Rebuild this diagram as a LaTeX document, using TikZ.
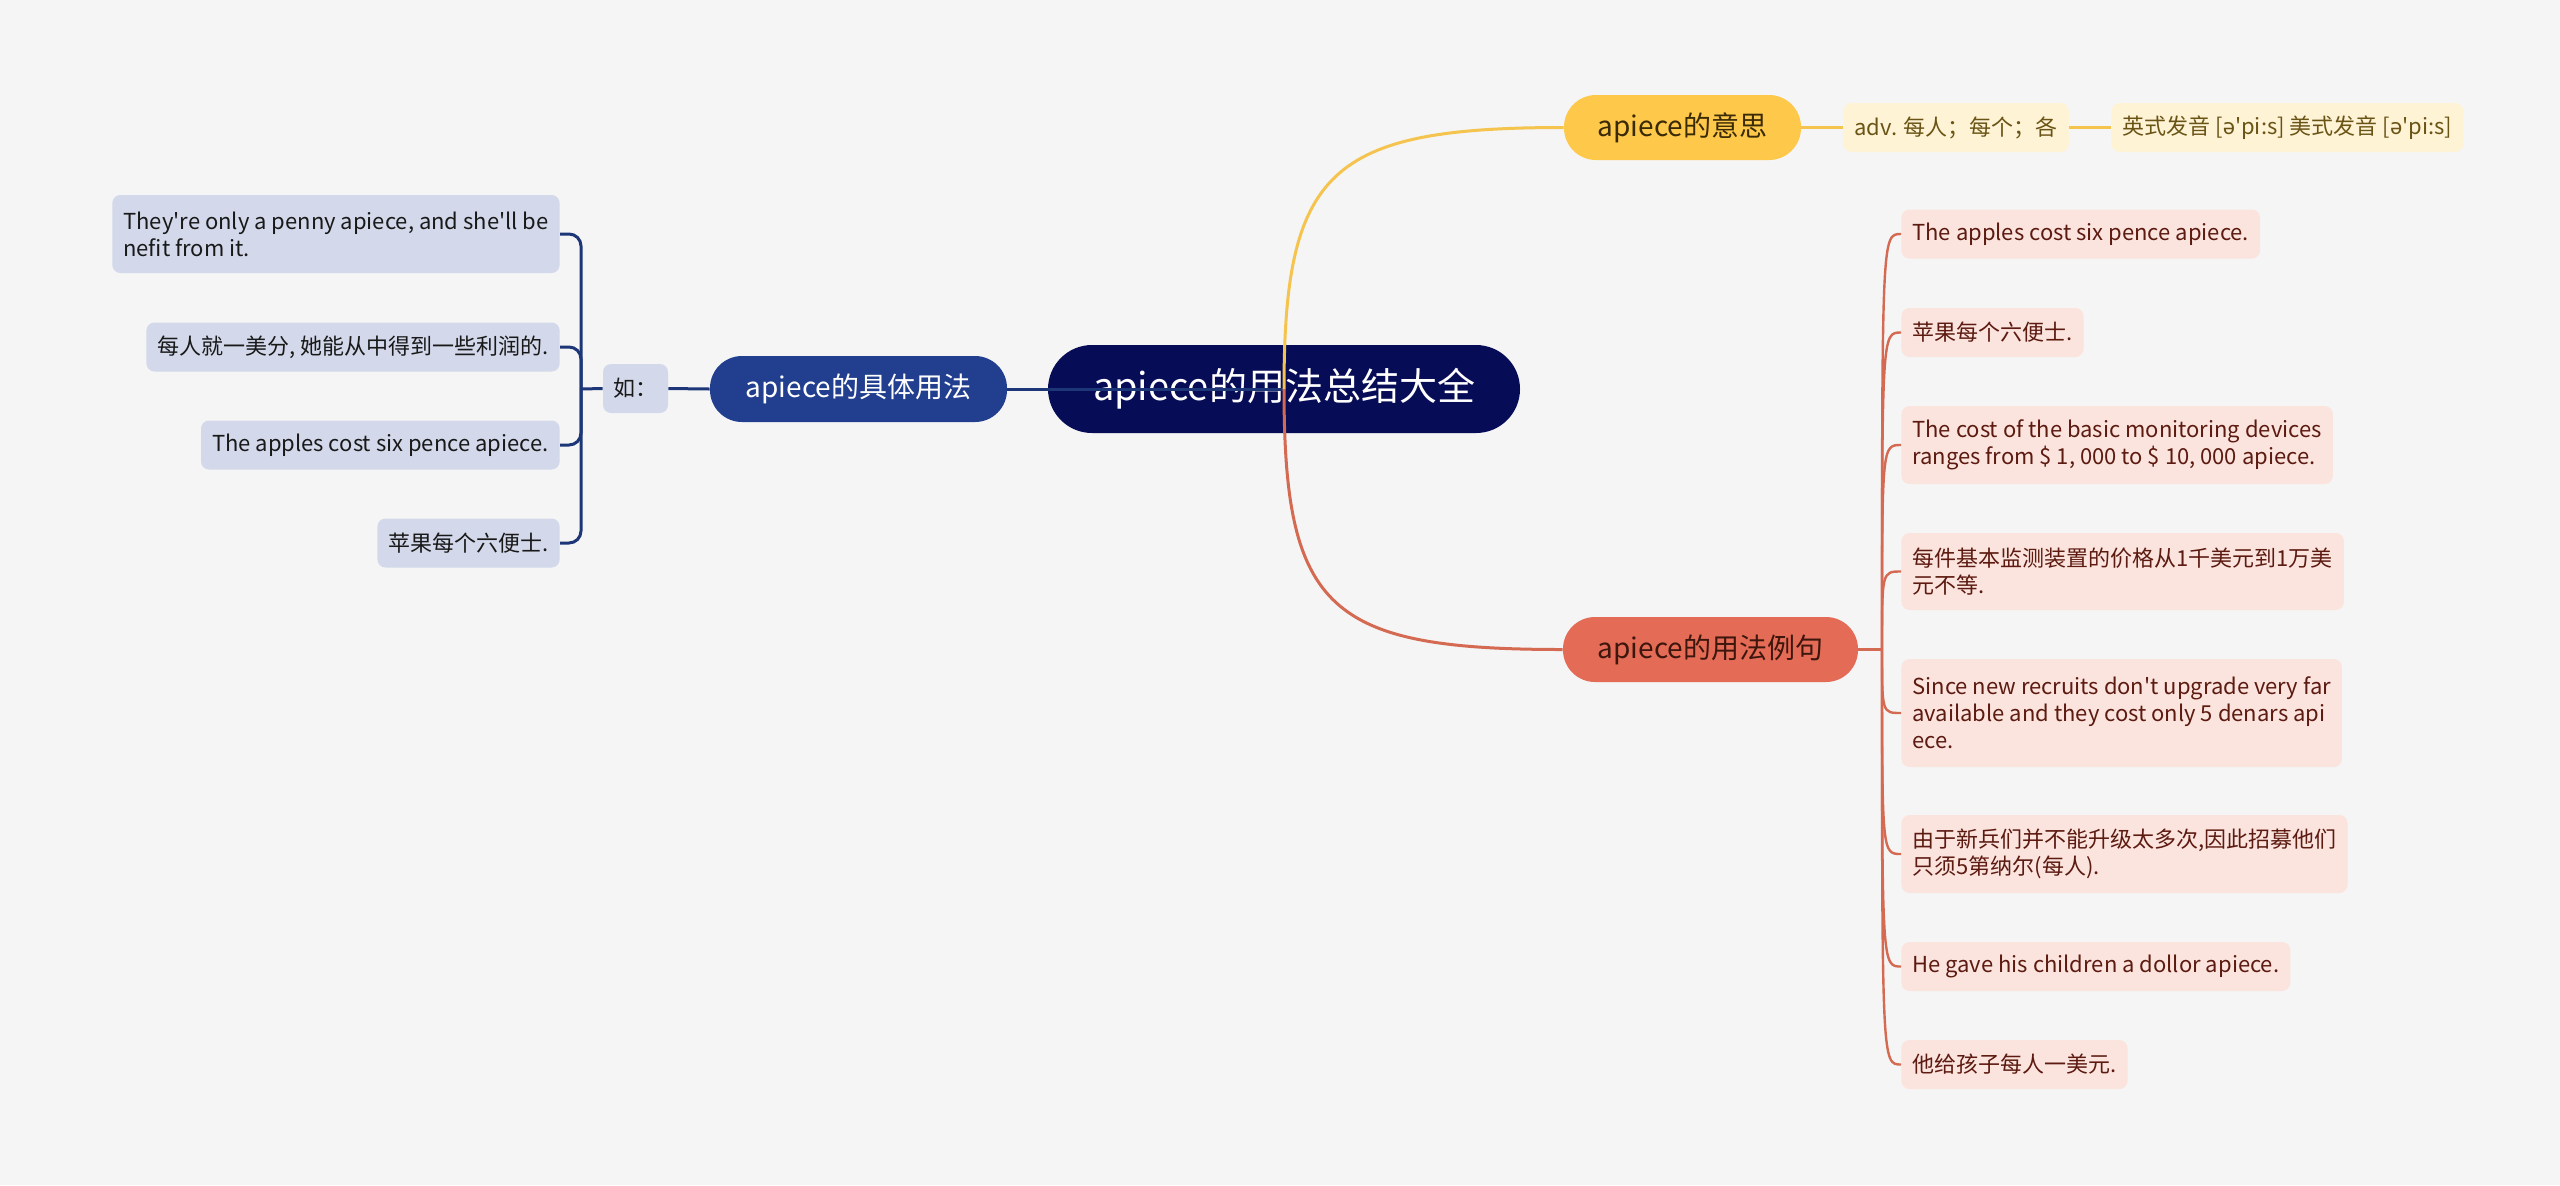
\documentclass[tikz,border=0pt]{standalone}
\usepackage{fontspec}
\setmainfont{Noto Sans CJK SC}[Ligatures=TeXOff]
\newfontfamily\ipafont{Noto Sans}
\usepackage{tikz}
\usetikzlibrary{calc}

\definecolor{bgc}{HTML}{F5F5F5}
\definecolor{rootc}{HTML}{070C57}
\definecolor{bluec}{HTML}{213F8E}
\definecolor{bluel}{HTML}{1C3677}
\definecolor{bluebox}{HTML}{D3D9EA}
\definecolor{yelc}{HTML}{FEC84A}
\definecolor{yell}{HTML}{F4C44E}
\definecolor{yelbox}{HTML}{FFF3D6}
\definecolor{yeltext}{HTML}{6A5415}
\definecolor{yelnode}{HTML}{3A2A05}
\definecolor{redc}{HTML}{E46B55}
\definecolor{redl}{HTML}{D56A52}
\definecolor{redbox}{HTML}{FBE4DE}
\definecolor{redtext}{HTML}{5C1A10}
\definecolor{rednode}{HTML}{3D160E}

\begin{document}
\begin{tikzpicture}[x=0.5pt,y=-0.5pt,
	rootnode/.style={fill=rootc,text=white,minimum width=236pt,minimum height=44pt,rounded corners=22pt,inner sep=0pt,font=\fontsize{19}{23}\selectfont},
	topic/.style={minimum height=32.5pt,rounded corners=16pt,inner sep=0pt,font=\fontsize{14}{17}\selectfont},
	leaf/.style={rounded corners=4pt,inner xsep=5.5pt,inner ysep=0pt,minimum height=24.5pt,align=left,font=\fontsize{11}{13.5}\selectfont},
	blueleaf/.style={leaf,fill=bluebox,text=black!90},
	yelleaf/.style={leaf,fill=yelbox,text=yeltext},
	redleaf/.style={leaf,fill=redbox,text=redtext},
	blueline/.style={draw=bluel,line width=1.5pt},
	yelline/.style={draw=yell,line width=1.5pt},
	redline/.style={draw=redl,line width=1.5pt},
	redtwig/.style={draw=redl,line width=1.2pt}]

	\fill[bgc] (0,0) rectangle (2560,1185);

	\node [rootnode] (root) at (1284,389) {apiece的用法总结大全};
	\node [topic,fill=bluec,text=white,minimum width=148.5pt,minimum height=33pt] (usage) at (858.5,389) {apiece的具体用法};
	\node [topic,fill=yelc,text=yelnode,minimum width=118.5pt] (meaning) at (1682.5,127.5) {apiece的意思};
	\node [topic,fill=redc,text=rednode,minimum width=147.5pt] (examples) at (1710.5,649.5) {apiece的用法例句};

	\node [yelleaf,anchor=west] (adv) at (1843,127.5) {adv. 每人；每个；各};
	\node [yelleaf,anchor=west] (pron) at (2111,127.5) {英式发音 [{\ipafont ə}'pi:s] 美式发音 [{\ipafont ə}'pi:s]};

	\node [blueleaf,minimum width=32.5pt,inner xsep=0pt,align=center] (ru) at (635.5,388.5) {如：};
	\node [blueleaf,minimum height=39pt,anchor=east] (l1) at (560,234) {They're only a penny apiece, and she'll be\\nefit from it.};
	\node [blueleaf,anchor=east] (l2) at (560,347) {每人就一美分, 她能从中得到一些利润的.};
	\node [blueleaf,anchor=east] (l3) at (560,445) {The apples cost six pence apiece.};
	\node [blueleaf,anchor=east] (l4) at (560,543) {苹果每个六便士.};

	\node [redleaf,anchor=west] (r1) at (1901,234) {The apples cost six pence apiece.};
	\node [redleaf,anchor=west] (r2) at (1901,332.5) {苹果每个六便士.};
	\node [redleaf,minimum height=39pt,anchor=west] (r3) at (1901,445) {The cost of the basic monitoring devices\\ranges from \$ 1, 000 to \$ 10, 000 apiece.};
	\node [redleaf,minimum height=38.5pt,anchor=west] (r4) at (1901,571.5) {每件基本监测装置的价格从1千美元到1万美\\元不等.};
	\node [redleaf,minimum height=54pt,anchor=west] (r5) at (1901,713) {Since new recruits don't upgrade very far\\available and they cost only 5 denars api\\ece.};
	\node [redleaf,minimum height=39pt,anchor=west] (r6) at (1901,854) {由于新兵们并不能升级太多次,因此招募他们\\只须5第纳尔(每人).};
	\node [redleaf,anchor=west] (r7) at (1901,966.5) {He gave his children a dollor apiece.};
	\node [redleaf,anchor=west] (r8) at (1901,1064.5) {他给孩子每人一美元.};

	\coordinate (lfork) at (581,389);
	\coordinate (rfork) at (1882,649.5);

	\draw [blueline] (root.center) to (usage.east);
	\draw [blueline] (usage.west) to (ru.east);
	\draw [blueline] (ru.west) to (lfork);
	\foreach \n in {l1,l2,l3,l4}
		\draw [blueline,rounded corners=6pt] (lfork) |- (\n.east);

	\draw [yelline] (root.center) .. controls +(0,-219) and +(-234,0) .. (meaning.west);
	\draw [yelline] (meaning.east) to (adv.west);
	\draw [yelline] (adv.east) to (pron.west);

	\draw [redline] (root.center) .. controls +(0,221) and +(-234,0) .. (examples.west);
	\draw [redline] (examples.east) to (rfork);
	\foreach \n in {r1,r2,r3,r4,r5,r6,r7,r8}
		\draw [redtwig] (rfork) .. controls (rfork |- \n.west) .. (\n.west);
\end{tikzpicture}
\end{document}
